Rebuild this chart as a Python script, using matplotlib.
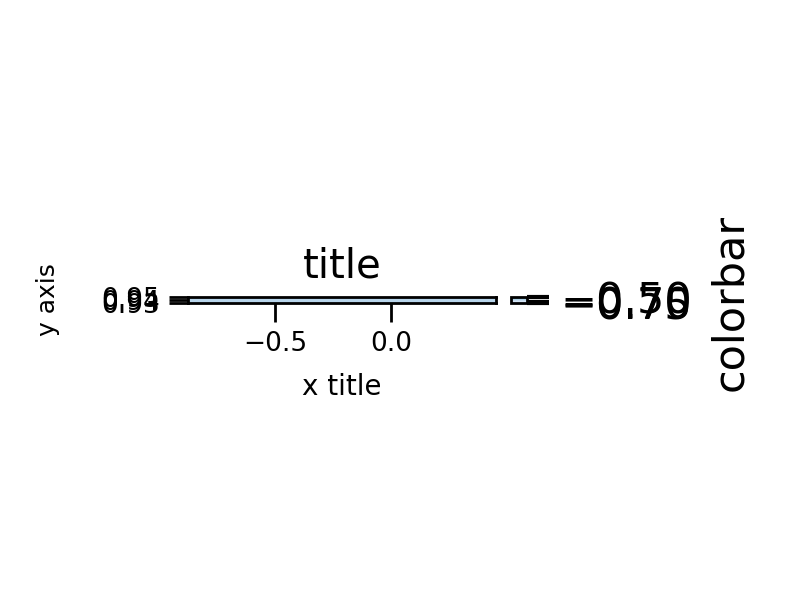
import matplotlib
matplotlib.use("Agg")
import matplotlib.pyplot as plt
import numpy as np

x_edges = [-0.875, 0.453]
y_edges = [0.93, 0.95]
values = [[-0.62]]
x_ticks = [-0.5, 0.0]
y_ticks = [0.93, 0.94, 0.95]
cbar_ticks = [-0.75, -0.70, -0.50]

fig = plt.figure(figsize=(7.99, 6.0), dpi=100)
W, H = 799, 600
ax = fig.add_axes([188/W, 1-303/H, (496-188)/W, 6/H])
mesh = ax.pcolormesh(x_edges, y_edges, np.array(values), cmap="Blues",
                     vmin=-0.8, vmax=-0.2, edgecolor="none")
ax.set_xlim(x_edges)
ax.set_ylim(y_edges)
ax.set_xticks(x_ticks)
ax.set_xticklabels(["\u22120.5", "0.0"])
ax.set_yticks(y_ticks)
ax.tick_params(axis="both", labelsize=19, width=2, length=14, pad=6)
for s in ax.spines.values():
    s.set_linewidth(2)
ax.set_title("title", fontsize=29, pad=14)
ax.set_xlabel("x title", fontsize=20, labelpad=12)
ax.set_ylabel("y axis", fontsize=18, labelpad=30)

cax = fig.add_axes([511/W, 1-303/H, 16/W, 6/H])
cb = fig.colorbar(mesh, cax=cax)
cb.set_ticks(cbar_ticks)
cax.set_ylim(-0.76, -0.49)
cax.tick_params(labelsize=31, width=3, length=16, pad=8)
cb.outline.set_linewidth(2)
fig.text(730/W, 1-302/H, "colorbar", rotation=90, fontsize=31, ha="center", va="center")
fig.savefig("out.png", dpi=100)
